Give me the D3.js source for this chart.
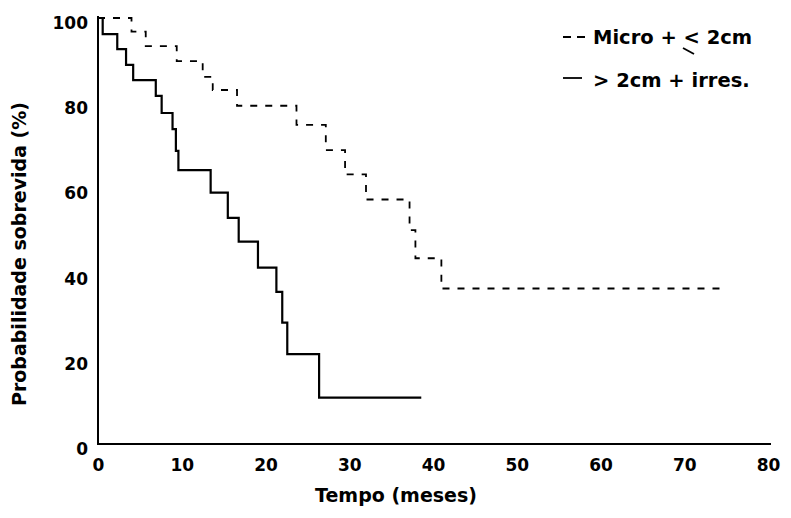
<!DOCTYPE html>
<html>
<head>
<meta charset="utf-8">
<script src="https://cdn.jsdelivr.net/npm/d3@7"></script>
<style>
  html, body { margin: 0; padding: 0; background: #fff; }
  svg { display: block; }
  text { font-family: "DejaVu Sans", sans-serif; font-weight: bold; fill: #000; }
</style>
</head>
<body>
<svg id="chart" width="791" height="518"></svg>
<script>
// Kaplan-Meier survival estimates (time in months, survival in %)
const timesMicro = [0, 4.0, 5.7, 9.4, 12.5, 13.7, 16.6, 23.7, 27.2, 29.5, 32.0, 37.2, 37.9, 41.0, 74.9];
const survMicro  = [100, 96.8, 93.4, 89.9, 86.2, 83.1, 79.4, 74.9, 69.0, 63.3, 57.4, 50.2, 43.6, 36.5, 36.5];

const timesLarge = [0, 0.56, 2.3, 3.35, 4.2, 6.9, 7.6, 8.9, 9.3, 9.6, 13.45, 15.5, 16.8, 19.1, 21.3, 22.0, 22.6, 26.4, 38.6];
const survLarge  = [100, 96.2, 92.7, 89.0, 85.4, 81.7, 77.7, 73.9, 68.8, 64.3, 59.0, 53.1, 47.5, 41.4, 35.7, 28.5, 21.1, 10.9, 10.9];

const xTicks = [0, 10, 20, 30, 40, 50, 60, 70, 80];
const yTicks = [0, 20, 40, 60, 80, 100];

const legendLabels = ["Micro + < 2cm", "> 2cm + irres."];
const xTitle = "Tempo (meses)";
const yTitle = "Probabilidade sobrevida (%)";

const svg = d3.select("#chart");

const x = d3.scaleLinear().domain([0, 80]).range([98, 768]);
const y = d3.scaleLinear().domain([0, 100]).range([444, 18]);

// axes
const xAxis = svg.append("g")
  .attr("transform", `translate(0,${y(0)})`)
  .call(d3.axisBottom(x).tickValues(xTicks).tickSize(0).tickSizeOuter(0).tickPadding(15));
xAxis.select(".domain").attr("stroke", "#000").attr("stroke-width", 2.2)
  .attr("d", `M${x(0) - 1},0H${x(80) + 3}`);
xAxis.selectAll("text").style("font-size", "17px").style("font-family", "DejaVu Sans").style("font-weight", "bold");

const yAxis = svg.append("g")
  .attr("transform", `translate(${x(0)},0)`)
  .call(d3.axisLeft(y).tickValues(yTicks).tickSize(0).tickSizeOuter(0).tickPadding(10));
yAxis.select(".domain").attr("stroke", "#000").attr("stroke-width", 2)
  .attr("d", `M0,${y(0) + 1}V${y(100) - 2}`);
yAxis.selectAll("text").attr("dy", "0.62em").style("font-size", "17px").style("font-family", "DejaVu Sans").style("font-weight", "bold");

// survival step curves
const step = d3.line()
  .x(d => x(d[0]))
  .y(d => y(d[1]))
  .curve(d3.curveStepAfter);

const micro = timesMicro.map((t, i) => [t, survMicro[i]]);
const large = timesLarge.map((t, i) => [t, survLarge[i]]);

svg.append("path")
  .datum(micro)
  .attr("fill", "none")
  .attr("stroke", "#000")
  .attr("stroke-width", 1.8)
  .attr("stroke-dasharray", "7,8")
  .attr("d", step);

svg.append("path")
  .datum(large)
  .attr("fill", "none")
  .attr("stroke", "#000")
  .attr("stroke-width", 2.2)
  .attr("d", step);

// axis titles
svg.append("text")
  .attr("x", 396).attr("y", 502)
  .attr("text-anchor", "middle")
  .style("font-size", "19px")
  .text(xTitle);

svg.append("text")
  .attr("transform", "translate(26,254) rotate(-90)")
  .attr("text-anchor", "middle")
  .style("font-size", "19px")
  .text(yTitle);

// legend
const legend = svg.append("g");
legend.append("line")
  .attr("x1", 563).attr("x2", 590).attr("y1", 37).attr("y2", 37)
  .attr("stroke", "#000").attr("stroke-width", 1.8).attr("stroke-dasharray", "8,6");
legend.append("text")
  .attr("x", 593).attr("y", 44)
  .style("font-size", "19.5px")
  .text(legendLabels[0]);
// hand-drawn underline of the "<" sign
legend.append("line")
  .attr("x1", 683).attr("y1", 48).attr("x2", 694).attr("y2", 54)
  .attr("stroke", "#000").attr("stroke-width", 1.8);

legend.append("line")
  .attr("x1", 563).attr("x2", 582).attr("y1", 78).attr("y2", 78)
  .attr("stroke", "#000").attr("stroke-width", 1.8);
legend.append("text")
  .attr("x", 593).attr("y", 87)
  .style("font-size", "19.5px")
  .text(legendLabels[1]);
</script>
</body>
</html>
